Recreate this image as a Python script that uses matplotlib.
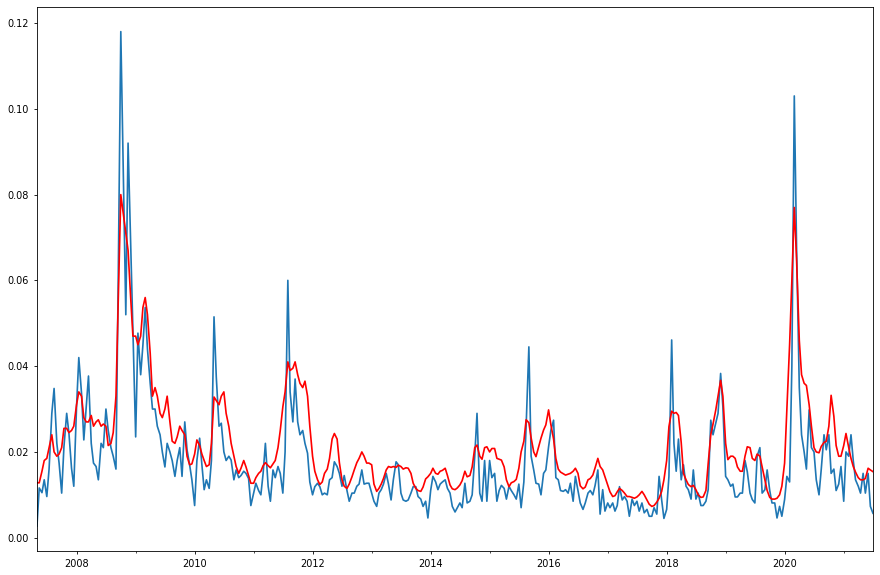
import matplotlib
matplotlib.use("Agg")
import matplotlib.pyplot as plt
import matplotlib.dates as mdates
import numpy as np
import pandas as pd

# semi-monthly samples, May 2007 .. Jul 2021
realized = np.array([
    0.0027, 0.0116, 0.0105, 0.0135, 0.0096, 0.016, 0.029, 0.0348, 0.022, 0.0174, 0.0104, 0.0212, 0.029, 0.0243, 0.0162, 0.012,
    0.0305, 0.042, 0.0336, 0.0228, 0.0305, 0.0377, 0.022, 0.0174, 0.0166, 0.0135, 0.022, 0.021, 0.030, 0.025, 0.021, 0.019, 0.016, 0.060, 0.118, 0.088, 0.052, 0.092, 0.069, 0.048,
    0.0235, 0.0477, 0.038, 0.045, 0.0537, 0.044, 0.036, 0.030, 0.030, 0.026, 0.024, 0.020, 0.0165, 0.022, 0.020, 0.018, 0.0143, 0.018, 0.021, 0.0143, 0.027, 0.0205, 0.017, 0.0135,
    0.0075, 0.018, 0.0232, 0.017, 0.0112, 0.0135, 0.0115, 0.018, 0.0515, 0.0375, 0.026, 0.0267, 0.020, 0.018, 0.019, 0.0181, 0.0135, 0.0158, 0.014, 0.0145, 0.0155, 0.015, 0.0138, 0.0075,
    0.0104, 0.0127, 0.011, 0.0100, 0.0150, 0.022, 0.012, 0.0085, 0.0158, 0.014, 0.0166, 0.015, 0.0104, 0.020, 0.060, 0.034, 0.027, 0.037, 0.027, 0.024, 0.025, 0.022, 0.0197, 0.013,
    0.010, 0.0119, 0.0127, 0.0119, 0.0100, 0.0104, 0.0100, 0.0135, 0.014, 0.0177, 0.0166, 0.015, 0.012, 0.0145, 0.011, 0.0085, 0.0104, 0.0104, 0.012, 0.0125, 0.0158, 0.0125, 0.0127, 0.0127,
    0.0104, 0.0085, 0.0073, 0.0104, 0.0112, 0.0125, 0.015, 0.0125, 0.0088, 0.0135, 0.0177, 0.0170, 0.0104, 0.0088, 0.0085, 0.0088, 0.0104, 0.0119, 0.0119, 0.0096, 0.0090, 0.0073, 0.0085, 0.0046,
    0.011, 0.0143, 0.013, 0.0112, 0.0125, 0.013, 0.0135, 0.0115, 0.0104, 0.0073, 0.006, 0.0070, 0.0081, 0.0070, 0.0127, 0.0081, 0.0085, 0.010, 0.019, 0.029, 0.0104, 0.0085, 0.018, 0.0085,
    0.018, 0.014, 0.015, 0.0085, 0.011, 0.0122, 0.0115, 0.0090, 0.0120, 0.0110, 0.0100, 0.0090, 0.0125, 0.0070, 0.013, 0.0259, 0.0445, 0.019, 0.0158, 0.0127, 0.0125, 0.010, 0.015, 0.0158,
    0.0212, 0.025, 0.0274, 0.014, 0.0135, 0.011, 0.0108, 0.0112, 0.0104, 0.0127, 0.0085, 0.0143, 0.011, 0.0081, 0.0066, 0.0081, 0.0104, 0.011, 0.0100, 0.0122, 0.0158, 0.0055, 0.0112, 0.0062,
    0.0081, 0.0070, 0.0081, 0.0062, 0.0075, 0.0119, 0.0088, 0.0096, 0.0085, 0.0050, 0.0090, 0.0075, 0.0085, 0.0062, 0.0081, 0.0058, 0.0066, 0.0050, 0.0050, 0.0070, 0.0055, 0.0143, 0.0088, 0.0045,
    0.0066, 0.0143, 0.0461, 0.0220, 0.0155, 0.0230, 0.0135, 0.0170, 0.0120, 0.0112, 0.0090, 0.0158, 0.0090, 0.0104, 0.0075, 0.0075, 0.0085, 0.0112, 0.0274, 0.0240, 0.0267, 0.0290, 0.0383, 0.0305,
    0.0143, 0.0135, 0.012, 0.0125, 0.0095, 0.0095, 0.0104, 0.0104, 0.018, 0.0154, 0.0104, 0.0089, 0.0081, 0.019, 0.021, 0.0104, 0.0112, 0.0158, 0.0110, 0.0081, 0.0081, 0.0046, 0.0073, 0.0050,
    0.0089, 0.0143, 0.013, 0.040, 0.103, 0.068, 0.035, 0.024, 0.020, 0.016, 0.0298, 0.021, 0.020, 0.0135, 0.010, 0.016, 0.024, 0.0205, 0.024, 0.0150, 0.016, 0.011, 0.0125, 0.0166,
    0.0085, 0.020, 0.019, 0.024, 0.018, 0.0135, 0.0120, 0.0104, 0.0150, 0.0104, 0.0150, 0.0073, 0.0057,
])

forecast = np.array([
    0.0128, 0.0128, 0.0155, 0.018, 0.0185, 0.021, 0.024, 0.020, 0.019, 0.0195, 0.021, 0.0255, 0.0255, 0.0245, 0.025, 0.026,
    0.031, 0.034, 0.033, 0.028, 0.027, 0.027, 0.0285, 0.026, 0.027, 0.0275, 0.026, 0.0265, 0.026, 0.0215, 0.022, 0.0245, 0.033, 0.055, 0.080, 0.076, 0.071, 0.067, 0.056, 0.047,
    0.047, 0.045, 0.047, 0.0537, 0.056, 0.052, 0.043, 0.033, 0.035, 0.033, 0.029, 0.028, 0.030, 0.033, 0.027, 0.0225, 0.022, 0.0235, 0.026, 0.025, 0.024, 0.019, 0.017, 0.0172,
    0.0195, 0.0228, 0.0215, 0.0195, 0.018, 0.0166, 0.017, 0.022, 0.0328, 0.032, 0.031, 0.033, 0.034, 0.029, 0.0259, 0.022, 0.019, 0.0166, 0.015, 0.0162, 0.018, 0.0165, 0.0145, 0.0127,
    0.0127, 0.014, 0.015, 0.0155, 0.0168, 0.0175, 0.0168, 0.0163, 0.0172, 0.018, 0.021, 0.025, 0.0305, 0.034, 0.041, 0.039, 0.0395, 0.041, 0.038, 0.036, 0.035, 0.0365, 0.033, 0.026,
    0.019, 0.0155, 0.0135, 0.0124, 0.013, 0.015, 0.016, 0.0185, 0.023, 0.0243, 0.023, 0.0175, 0.0135, 0.012, 0.0115, 0.0125, 0.0142, 0.0158, 0.0175, 0.0185, 0.020, 0.019, 0.0174, 0.0174,
    0.017, 0.0125, 0.0108, 0.0115, 0.0125, 0.0138, 0.0158, 0.0166, 0.0164, 0.0166, 0.0164, 0.0169, 0.0166, 0.016, 0.0163, 0.0162, 0.015, 0.0127, 0.0115, 0.011, 0.0108, 0.0118, 0.0137, 0.0142,
    0.015, 0.0162, 0.015, 0.0148, 0.0155, 0.0157, 0.0162, 0.0145, 0.0123, 0.0114, 0.0112, 0.0116, 0.0123, 0.0133, 0.0155, 0.0142, 0.0145, 0.0165, 0.021, 0.0216, 0.019, 0.0183, 0.021, 0.0212,
    0.020, 0.0208, 0.0208, 0.0185, 0.0183, 0.0181, 0.0165, 0.0135, 0.0119, 0.0128, 0.0131, 0.0136, 0.0162, 0.020, 0.0225, 0.0275, 0.0268, 0.0233, 0.020, 0.0189, 0.0213, 0.0232, 0.0251, 0.0263,
    0.0298, 0.0264, 0.023, 0.0185, 0.016, 0.0153, 0.0149, 0.0146, 0.0148, 0.015, 0.0155, 0.0162, 0.015, 0.0121, 0.0114, 0.0118, 0.0135, 0.0138, 0.0146, 0.0163, 0.0185, 0.0166, 0.0158, 0.0142,
    0.0123, 0.0107, 0.0096, 0.0098, 0.0107, 0.0115, 0.011, 0.0104, 0.0096, 0.0096, 0.0094, 0.0092, 0.0095, 0.010, 0.0108, 0.010, 0.0088, 0.0078, 0.0073, 0.0075, 0.0083, 0.0092, 0.0108, 0.0135,
    0.018, 0.0259, 0.0295, 0.029, 0.0292, 0.0285, 0.0222, 0.015, 0.0135, 0.0124, 0.0119, 0.0122, 0.0112, 0.010, 0.0094, 0.0095, 0.011, 0.0173, 0.024, 0.0265, 0.0298, 0.033, 0.0367, 0.033,
    0.022, 0.0182, 0.019, 0.019, 0.0185, 0.0165, 0.0155, 0.0155, 0.019, 0.0212, 0.021, 0.0185, 0.018, 0.0195, 0.019, 0.0165, 0.0135, 0.011, 0.0094, 0.009, 0.009, 0.0092, 0.010, 0.012,
    0.0174, 0.030, 0.045, 0.060, 0.077, 0.065, 0.046, 0.038, 0.036, 0.0355, 0.031, 0.026, 0.021, 0.020, 0.0198, 0.0213, 0.0222, 0.0225, 0.026, 0.0332, 0.0283, 0.0215, 0.019, 0.019,
    0.0215, 0.0243, 0.021, 0.0185, 0.0166, 0.0153, 0.014, 0.0135, 0.0135, 0.0138, 0.0162, 0.0158, 0.0154,
])

dates = pd.date_range('2007-05-01', periods=len(realized), freq='SMS')

plt.rcParams['font.size'] = 7
fig = plt.figure(figsize=(8.8, 5.75), dpi=100)
ax = fig.add_axes([0.042, 0.042, 0.950, 0.946])

ax.plot(dates, realized, color='#1f77b4', linewidth=1.2)
ax.plot(dates, forecast, color='red', linewidth=1.2)

ax.set_xlim(dates[0], dates[-1])
ax.xaxis.set_major_locator(mdates.YearLocator(2))
ax.xaxis.set_minor_locator(mdates.YearLocator(1))
ax.xaxis.set_major_formatter(mdates.DateFormatter('%Y'))
ax.tick_params(which='major', length=2.2, width=0.6)
ax.tick_params(which='minor', length=1.3, width=0.5)
for s in ax.spines.values():
    s.set_linewidth(0.6)

fig.savefig('out.png', dpi=100)
